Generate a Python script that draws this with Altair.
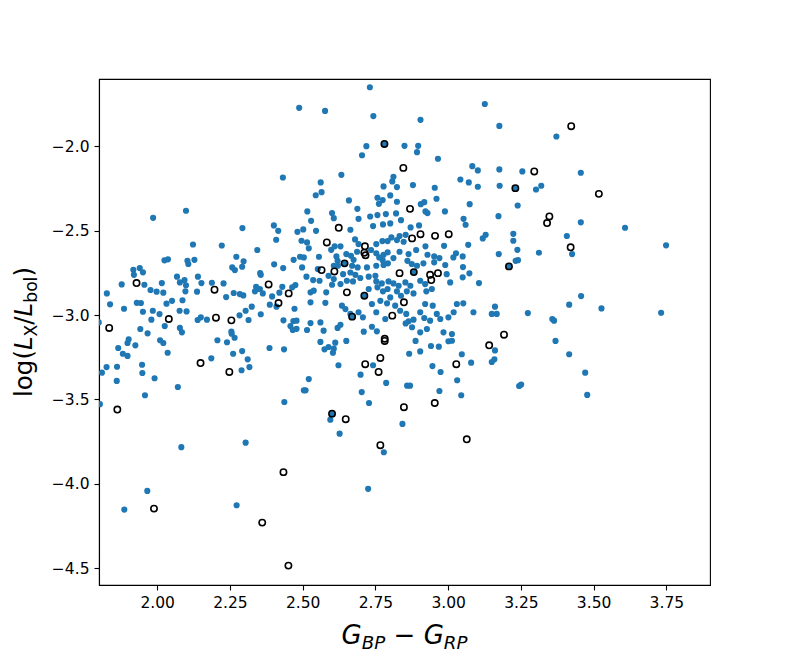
import altair as alt
import pandas as pd

blue_x = [2.488, 2.432,
 2.731, 2.577, 2.743, 3.126, 2.905, 3.176, 2.781, 2.719, 2.704, 2.850, 2.897, 2.893, 2.965,
 2.633, 3.083, 3.102, 3.176, 2.562, 2.812, 2.808, 2.778, 2.824, 2.879, 2.954, 3.042, 3.071, 3.102, 3.177,
 2.545, 2.565, 2.659, 2.757, 2.775, 2.801, 2.824, 2.762, 2.918, 2.906, 2.960, 3.074,
 3.372, 3.255, 3.456, 3.231, 3.302, 3.320, 3.239,
 2.099, 1.986, 2.293, 2.401, 2.416, 2.482, 2.502, 2.409, 2.496, 2.123, 2.222, 2.344,
 2.025, 2.037, 2.104, 2.107, 2.128, 2.272, 2.297, 2.292, 2.258, 2.267, 2.402, 2.433, 2.469, 2.491, 2.498,
 1.918, 1.940, 1.951, 1.920, 1.878, 1.956, 1.977, 1.998, 2.021, 2.016,
 2.068, 2.078, 2.094, 2.099, 2.140, 2.152, 2.137, 2.188, 2.228, 2.097,
 2.263, 2.284, 2.296, 2.237, 2.336, 2.353, 2.363, 2.354, 2.356, 2.340,
 2.395, 2.420, 2.430, 2.475, 2.464, 2.387, 2.410, 2.472,
 1.827, 1.838, 1.886, 1.930, 1.944, 1.951, 1.985, 2.008, 1.980, 2.032, 2.051, 2.087,
 2.077, 2.101, 2.139, 2.150, 2.171, 2.283, 2.314, 2.304, 2.325, 2.356, 2.434, 2.468, 2.479, 2.458, 2.466,
 1.799, 1.942, 1.967, 2.026, 2.078, 2.085, 2.255, 2.479,
 2.601, 2.607, 2.688, 2.922, 2.929, 2.989, 2.516, 2.529, 2.692, 2.732, 2.757, 2.786, 2.742, 2.776, 2.801,
 2.821, 2.838, 2.871, 2.900, 3.053, 3.060, 3.173,
 2.546, 2.664, 2.515, 2.610, 2.630, 2.680, 2.692, 2.753, 2.774, 2.792, 2.805, 2.833, 2.854, 2.824, 2.847,
 2.890, 2.922, 2.929, 2.986, 3.018, 3.027, 3.050, 3.069, 3.119, 3.129, 3.174,
 2.521, 2.504, 2.556, 2.598, 2.616, 2.620, 2.650, 2.666, 2.675, 2.687, 2.735, 2.753, 2.763, 2.778, 2.792,
 2.812, 2.833, 2.864, 2.775, 2.793, 2.860, 2.875, 2.893, 2.915, 2.952, 2.970, 2.952, 2.990, 3.051,
 2.644, 2.621, 2.607, 2.670, 2.689, 2.721, 2.753, 2.778, 2.552,
 2.513, 2.536, 2.558, 2.589, 2.607, 2.601, 2.639, 2.664, 2.681, 2.630, 2.652, 2.673, 2.698, 2.727, 2.750, 2.882,
 2.753, 2.772, 2.795, 2.812, 2.830, 2.853, 2.870, 2.904, 2.921, 2.995, 3.007, 3.050, 3.073, 3.106,
 2.527, 2.538, 2.581, 2.712, 2.727, 2.757, 2.776, 2.792, 2.801, 2.824, 2.838, 2.858, 2.881, 2.925, 2.944,
 2.527, 2.578, 2.635, 2.647, 2.664, 2.738, 2.767, 2.790, 2.818, 2.835, 2.921, 2.947, 3.030, 3.052, 3.161,
 3.150, 3.167, 3.087, 3.019, 3.001, 2.961, 2.973,
 2.753, 2.784, 2.856, 2.881, 2.864, 2.904, 2.918, 2.938, 2.692, 2.707, 2.670,
 2.561, 2.527, 2.515, 2.572, 2.620, 2.630, 2.710, 2.738, 2.755, 2.854, 2.876, 2.904, 2.927, 2.984, 3.013,
 3.456, 3.608, 3.224, 3.224, 3.238, 3.408, 3.426, 3.312, 3.749, 3.232, 3.240, 3.209, 3.457, 3.416, 3.527,
 3.274, 3.358, 3.364, 3.732,
 1.902, 1.898, 1.925, 1.866, 1.882, 1.898, 2.010, 2.021, 2.036, 2.207, 2.240, 2.256, 2.266, 2.292, 2.311,
 2.261, 2.317, 2.290, 2.386, 2.436, 2.186, 1.826, 1.810, 1.862, 1.948, 1.949, 1.861, 1.991, 1.958, 2.071,
 1.803, 2.437, 2.504, 2.083, 2.304,
 2.561, 2.575, 2.589, 2.607, 2.612, 2.650, 2.604, 2.888, 2.866, 2.904, 2.941, 2.968, 3.001, 3.013, 3.161,
 3.150, 3.159, 3.047, 3.079, 2.946, 2.974, 2.623, 2.742, 2.699, 2.787, 2.859, 2.869, 3.031, 2.970, 3.045,
 2.521, 2.510, 2.703, 2.728, 2.601, 2.595, 2.627, 2.843, 2.779,
 3.369, 3.416, 3.471, 3.244, 3.251, 3.478,
 1.966, 1.887, 2.273, 2.725]

blue_y = [-1.771, -2.184,
 -1.649, -1.789, -1.820, -1.748, -1.842, -1.878, -1.985, -1.998, -2.052, -1.996, -1.996, -2.034, -2.073,
 -2.168, -2.117, -2.142, -2.136, -2.213, -2.180, -2.207, -2.237, -2.241, -2.229, -2.245, -2.196, -2.213, -2.239, -2.233,
 -2.289, -2.271, -2.320, -2.304, -2.318, -2.290, -2.328, -2.340, -2.330, -2.342, -2.310, -2.342,
 -1.941, -2.148, -2.156, -2.247, -2.255, -2.233, -2.350,
 -2.381, -2.423, -2.484, -2.468, -2.500, -2.506, -2.492, -2.553, -2.559, -2.581, -2.587, -2.614,
 -2.675, -2.669, -2.678, -2.697, -2.672, -2.654, -2.681, -2.713, -2.717, -2.733, -2.699, -2.721, -2.672, -2.654, -2.717,
 -2.731, -2.721, -2.746, -2.761, -2.818, -2.820, -2.851, -2.861, -2.867, -2.810,
 -2.772, -2.806, -2.792, -2.823, -2.772, -2.810, -2.861, -2.808, -2.812, -2.859,
 -2.869, -2.875, -2.883, -2.893, -2.859, -2.845, -2.871, -2.751, -2.761, -2.832,
 -2.889, -2.867, -2.832, -2.822, -2.835, -2.938, -2.950, -2.962,
 -2.871, -2.936, -2.962, -2.927, -2.928, -2.980, -2.974, -2.994, -3.027, -2.932, -2.915, -2.912,
 -2.974, -2.978, -3.029, -3.013, -3.027, -3.001, -3.029, -2.974, -2.950, -2.995, -3.031, -3.035, -3.033, -3.065, -3.088,
 -3.043, -3.082, -3.108, -3.065, -3.076, -3.102, -3.098, -3.081,
 -2.395, -2.425, -2.370, -2.385, -2.395, -2.385, -2.385, -2.441, -2.429, -2.415, -2.407, -2.401, -2.472, -2.462, -2.456,
 -2.397, -2.437, -2.480, -2.468, -2.429, -2.464, -2.413,
 -2.500, -2.494, -2.569, -2.592, -2.592, -2.551, -2.579, -2.579, -2.561, -2.561, -2.539, -2.531, -2.524, -2.555, -2.565,
 -2.614, -2.592, -2.642, -2.589, -2.658, -2.634, -2.652, -2.583, -2.545, -2.524, -2.638,
 -2.604, -2.658, -2.654, -2.613, -2.652, -2.678, -2.638, -2.648, -2.672, -2.624, -2.614, -2.634, -2.658, -2.642, -2.628,
 -2.662, -2.624, -2.638, -2.674, -2.693, -2.678, -2.697, -2.707, -2.693, -2.652, -2.662, -2.687, -2.703, -2.715,
 -2.693, -2.707, -2.707, -2.707, -2.717, -2.717, -2.707, -2.703, -2.727,
 -2.772, -2.792, -2.796, -2.767, -2.786, -2.820, -2.757, -2.747, -2.761, -2.816, -2.796, -2.800, -2.780, -2.772, -2.767, -2.745,
 -2.800, -2.812, -2.800, -2.812, -2.826, -2.806, -2.826, -2.796, -2.816, -2.757, -2.806, -2.776, -2.752, -2.810,
 -2.865, -2.855, -2.865, -2.885, -2.845, -2.835, -2.859, -2.845, -2.895, -2.859, -2.885, -2.859, -2.871, -2.859, -2.845,
 -2.924, -2.927, -2.944, -2.964, -2.993, -2.934, -2.915, -2.930, -2.944, -2.974, -2.934, -2.944, -2.934, -2.930, -2.950,
 -2.993, -2.993, -2.983, -2.983, -3.013, -2.993, -3.023,
 -2.983, -3.023, -2.993, -3.027, -3.037, -2.983, -3.017, -3.033, -2.983, -3.013, -3.009,
 -3.043, -3.047, -3.088, -3.092, -3.076, -3.057, -3.098, -3.069, -3.096, -3.049, -3.072, -3.102, -3.082, -3.102, -3.112,
 -2.450, -2.482, -2.518, -2.559, -2.613, -2.531, -2.638, -2.630, -2.586, -2.678, -2.674, -2.711, -2.887, -2.938, -2.960,
 -2.988, -3.023, -3.033, -2.986,
 -3.143, -3.165, -3.179, -3.195, -3.229, -3.242, -3.149, -3.165, -3.223, -3.149, -3.161, -3.110, -3.134, -3.213, -3.262,
 -3.229, -3.308, -3.327, -3.195, -3.203, -3.256, -3.308, -3.341, -3.306, -3.294, -3.343, -3.390, -3.374, -3.475, -3.426,
 -3.528, -3.515, -3.446, -3.783, -3.756,
 -3.159, -3.203, -3.189, -3.199, -3.163, -3.153, -3.223, -3.153, -3.229, -3.215, -3.183, -3.187, -3.155, -3.152, -3.209,
 -3.278, -3.262, -3.232, -3.282, -3.302, -3.337, -3.297, -3.297, -3.353, -3.402, -3.418, -3.418, -3.386, -3.450, -3.475,
 -3.379, -3.446, -3.456, -3.521, -3.584, -3.620, -3.703, -3.645, -3.813,
 -3.153, -3.232, -3.341, -3.420, -3.412, -3.473,
 -4.042, -4.153, -4.127, -4.030]

open_x = [2.781, 2.846, 3.423, 3.296, 3.231, 3.518,
 1.929, 2.197, 2.383, 2.452, 2.417, 2.040, 2.202, 2.255, 1.835,
 2.869, 2.624, 2.583, 2.714, 2.712, 2.716, 2.876, 2.905, 2.955, 3.002, 2.644, 2.565, 2.609, 2.833, 2.882,
 2.938, 2.942, 2.965, 2.652, 2.712, 2.848, 2.808, 2.670,
 3.348, 3.340, 3.421, 3.209,
 2.149, 2.248, 1.863,
 2.782, 2.782, 3.192, 3.141, 3.028, 2.715, 2.767, 2.761, 2.848, 2.954, 2.601, 2.648, 3.064, 2.767,
 2.434, 1.989, 2.361, 1.790, 2.451]

open_y = [-1.985, -2.127, -1.880, -2.148, -2.247, -2.281,
 -2.810, -2.849, -2.818, -2.871, -2.928, -3.023, -3.015, -3.031, -3.076,
 -2.370, -2.482, -2.569, -2.592, -2.630, -2.645, -2.545, -2.520, -2.530, -2.520, -2.693, -2.733, -2.741, -2.751, -2.745,
 -2.761, -2.792, -2.751, -2.865, -2.885, -2.924, -3.003, -3.009,
 -2.415, -2.454, -2.598, -2.711,
 -3.284, -3.337, -3.560,
 -3.140, -3.153, -3.116, -3.179, -3.291, -3.291, -3.254, -3.337, -3.546, -3.521, -3.584, -3.617, -3.736, -3.771,
 -3.931, -4.147, -4.230, -4.447, -4.485]

x_ticks = [2.00, 2.25, 2.50, 2.75, 3.00, 3.25, 3.50, 3.75]
y_ticks = [-4.5, -4.0, -3.5, -3.0, -2.5, -2.0]
x_domain = [1.80, 3.90]
y_domain = [-4.60, -1.60]

W, H = 611, 506
FX = 26.0         # x-title font size
FY = 24.5         # y-title font size
SUBF = 0.7        # subscript scale
SUB = 5.0         # subscript drop
# DejaVu Sans advance widths (em)
ADV = {"l": 0.278, "o": 0.612, "g": 0.635, "(": 0.390, ")": 0.390, "/": 0.337,
       "L": 0.557, "X": 0.685, "b": 0.635, "G": 0.775, "B": 0.686, "P": 0.603,
       "R": 0.695, "\u2212": 0.838}

def tw(s, size):
    return sum(ADV[c] for c in s) * size

blue_df = pd.DataFrame({"x": blue_x, "y": blue_y})
open_df = pd.DataFrame({"x": open_x, "y": open_y})

xs = alt.Scale(domain=x_domain, nice=False, zero=False)
ys = alt.Scale(domain=y_domain, nice=False, zero=False)

x_axis = alt.Axis(values=x_ticks, format=".2f", title=None, grid=False)
y_axis = alt.Axis(values=y_ticks, format=".1f", title=None, grid=False)

blue = alt.Chart(blue_df).mark_circle(color="#1f77b4", opacity=1, size=38, clip=True).encode(
    x=alt.X("x:Q", scale=xs, axis=x_axis),
    y=alt.Y("y:Q", scale=ys, axis=y_axis),
)
opens = alt.Chart(open_df).mark_point(shape="circle", filled=False, color="black",
                                       strokeWidth=1.6, size=40, opacity=1, clip=True).encode(
    x=alt.X("x:Q", scale=xs),
    y=alt.Y("y:Q", scale=ys),
)

dummy = pd.DataFrame({"d": [0]})

def piece(text, px, py, size, italic=False, angle=0):
    kw = dict(align="left", baseline="alphabetic", fontSize=size, font="DejaVu Sans",
              color="black", fontStyle="italic" if italic else "normal")
    if angle:
        kw["angle"] = angle
    return alt.Chart(dummy).mark_text(**kw).encode(
        x=alt.value(px), y=alt.value(py), text=alt.value(text))

layers = []

# x-axis title: G_BP − G_RP  (gap = space around the binary minus)
S = FX * SUBF
gap = 0.32 * FX
xt_parts = [("G", FX, True, 0, 0), ("BP", S, True, SUB, 0), ("\u2212", FX, False, 0, gap),
            ("G", FX, True, 0, gap), ("RP", S, True, SUB, 0)]
total = sum(tw(t, s) + g for t, s, _, _, g in xt_parts)
cx = W / 2 - total / 2
base_x = H + 59
for t, s, it, d, g in xt_parts:
    cx += g
    layers.append(piece(t, cx, base_x + d, s, it))
    cx += tw(t, s)

# y-axis title: log(L_X/L_bol)
S = FY * SUBF
yt_parts = [("log(", FY, False, 0), ("L", FY, True, 0), ("X", S, False, SUB), ("/", FY, False, 0),
            ("L", FY, True, 0), ("bol", S, False, SUB), (")", FY, False, 0)]
total = sum(tw(t, s) for t, s, _, _ in yt_parts)
cy = H / 2 + total / 2
base_y = -67
for t, s, it, d in yt_parts:
    layers.append(piece(t, base_y + d, cy, s, it, angle=270))
    cy -= tw(t, s)

chart = alt.layer(blue, opens, *layers).properties(
    width=W, height=H,
    autosize=alt.AutoSizeParams(type="none"),
    padding={"left": 91, "top": 71, "right": 60, "bottom": 68},
).configure_view(stroke="black", strokeWidth=1.1).configure_axis(
    labelFont="DejaVu Sans", labelFontSize=15.5, labelColor="black",
    tickColor="black", domainColor="black", tickSize=5, tickWidth=1.1,
    domainWidth=1.1, labelPadding=5, grid=False,
)

chart.save("out.html", embed_options={"renderer": "svg", "actions": False})
